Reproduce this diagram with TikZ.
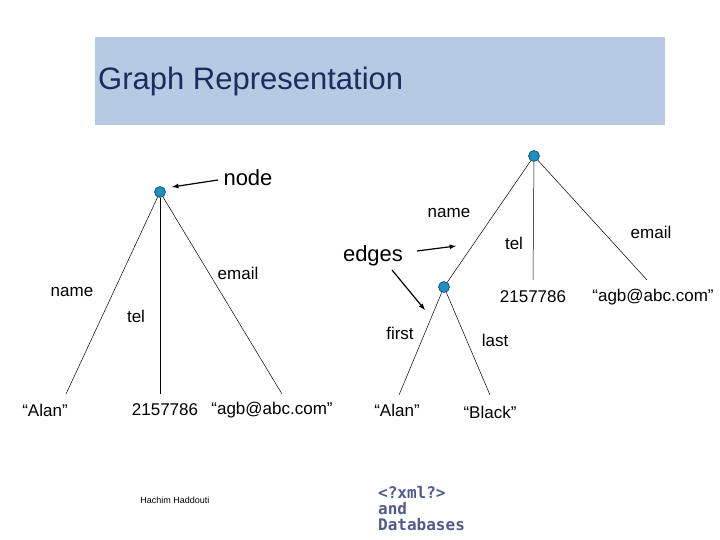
\documentclass[tikz,border=0pt]{standalone}
\usepackage{fontspec}
\setmainfont{Liberation Sans}
\newfontfamily\monof{DejaVu Sans Mono}
\definecolor{boxbg}{RGB}{183,202,227}
\definecolor{titlec}{RGB}{25,45,95}
\definecolor{vfill}{RGB}{30,143,192}
\definecolor{vdraw}{RGB}{20,60,90}
\definecolor{logoc}{RGB}{80,90,140}
\begin{document}
\begin{tikzpicture}[x=1pt,y=-1pt,
  vert/.style={circle,fill=vfill,draw=vdraw,line width=0.6pt,minimum size=11pt,inner sep=0pt},
  lbl/.style={font=\fontsize{17}{19}\selectfont,inner sep=1pt},
  edge/.style={line width=0.5pt,black},
  pt/.style={-latex,line width=1.2pt}]
\useasboundingbox (0,0) rectangle (720,540);
\fill[boxbg] (95,37) rectangle (665,125);
\node[font=\fontsize{31}{34}\selectfont,text=titlec,anchor=west,inner sep=0pt] (title) at (98,81) {Graph Representation};
% left tree
\node[vert] (r1) at (160,192) {};
\coordinate (l1) at (66,394);
\coordinate (l2) at (160,394);
\coordinate (l3) at (282,394);
\draw[edge] (r1) -- (l1); \draw[edge] (r1) -- (l2); \draw[edge] (r1) -- (l3);
\node[lbl] (n1) at (72,292) {name};
\node[lbl] (t1) at (136,316) {tel};
\node[lbl] (e1) at (238,273) {email};
\node[lbl] (a1) at (45,410) {“Alan”};
\node[lbl] (p1) at (165,410) {2157786};
\node[lbl] (m1) at (272,410) {“agb@abc.com”};
\node[font=\fontsize{22}{24}\selectfont] (nodel) at (248,178) {node};
\coordinate (na) at (218,180);
\coordinate (nb) at (172,187);
\draw[pt] (na) -- (nb);
% right tree
\node[vert] (r2) at (534,156) {};
\node[vert] (r3) at (444,287) {};
\coordinate (l4) at (533,280);
\coordinate (l5) at (647,280);
\coordinate (l6) at (399,395);
\coordinate (l7) at (490,395);
\draw[edge] (r2) -- (r3); \draw[edge] (r2) -- (l4); \draw[edge] (r2) -- (l5);
\draw[edge] (r3) -- (l6); \draw[edge] (r3) -- (l7);
\node[lbl] (n2) at (449,213) {name};
\node[lbl] (t2) at (514,243) {tel};
\node[lbl] (e2) at (651,232) {email};
\node[lbl] (p2) at (533,297) {2157786};
\node[lbl] (m2) at (653,297) {“agb@abc.com”};
\node[lbl] (f2) at (400,333) {first};
\node[lbl] (la2) at (495,340) {last};
\node[lbl] (a2) at (397,410) {“Alan”};
\node[lbl] (b2) at (490,412) {“Black”};
\node[font=\fontsize{22}{24}\selectfont] (edgesl) at (373,256) {edges};
\coordinate (ea) at (417,251);
\coordinate (eb) at (456,246);
\coordinate (ec) at (392,270);
\coordinate (ed) at (425,310);
\draw[pt] (ea) -- (eb);
\draw[pt] (ec) -- (ed);
\node[font=\fontsize{9}{10}\selectfont] (auth) at (175,500) {Hachim Haddouti};
\node[font=\monof\bfseries\fontsize{16}{16}\selectfont,text=logoc,align=left,anchor=north west,inner sep=0pt] (logo) at (378,486) {<?xml?>\\and\\Databases};
\end{tikzpicture}
\end{document}
